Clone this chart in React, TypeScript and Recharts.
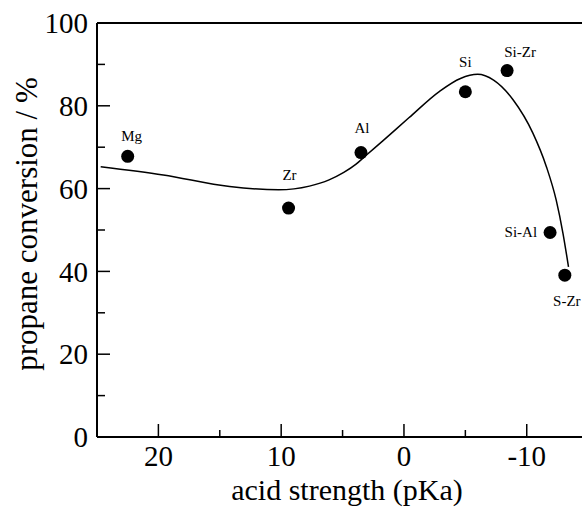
import React from 'react';
import { ComposedChart, Line, Scatter, XAxis, YAxis, ReferenceLine, Label } from 'recharts';

// catalysts, measured points
const catalystNames = ['Mg', 'Zr', 'Al', 'Si', 'Si-Zr', 'Si-Al', 'S-Zr'];
const catalystPka = [22.5, 9.4, 3.5, -5.0, -8.4, -11.9, -13.1];
const catalystConversion = [67.8, 55.3, 68.7, 83.4, 88.5, 49.4, 39.1];

// hand-drawn trend curve
const trendPka = [24.7, 19.6, 14.2, 10.2, 7.7, 6.1, 4.9, 3.9, 3.1, 1.7, -0.4, -2.9, -4.6, -6.0, -7.3, -8.9, -10.5, -11.6, -12.4, -12.95, -13.4];
const trendConversion = [65.3, 63.3, 60.5, 59.7, 60.6, 62.1, 63.9, 65.9, 68.0, 71.6, 77.1, 83.5, 86.6, 87.6, 86.2, 81.4, 73.4, 65.3, 57.2, 49.2, 41.1];

const xMajor = [20, 10, 0, -10];
const xMinor = [15, 5, -5];
const yMajor = [0, 20, 40, 60, 80, 100];
const yMinor = [10, 30, 50, 70, 90];

const serif = { fontFamily: "'Liberation Serif', 'DejaVu Serif', 'Times New Roman', serif" };

// where each catalyst name sits relative to its dot
const labelOffset: Record<string, { dx: number; dy: number; anchor: 'start' | 'middle' | 'end' }> = {
  Mg: { dx: 4, dy: -15, anchor: 'middle' },
  Zr: { dx: 1, dy: -28, anchor: 'middle' },
  Al: { dx: 1, dy: -20, anchor: 'middle' },
  Si: { dx: 0, dy: -25, anchor: 'middle' },
  'Si-Zr': { dx: 13, dy: -14, anchor: 'middle' },
  'Si-Al': { dx: -13, dy: 5, anchor: 'end' },
  'S-Zr': { dx: 2, dy: 31, anchor: 'middle' },
};

const points = catalystNames.map((name, i) => ({ name, x: catalystPka[i], y: catalystConversion[i] }));
const trend = trendPka.map((x, i) => ({ x, y: trendConversion[i] }));

const XTick = (props: any) => {
  const { x, y, payload } = props;
  const major = xMajor.includes(payload.value);
  return (
    <g>
      <line x1={x} x2={x} y1={y} y2={y - (major ? 13 : 7)} stroke="#000" strokeWidth={1.5} />
      {major && (
        <text x={x} y={y + 29} textAnchor="middle" style={serif} fontSize={29} fill="#000">
          {payload.value}
        </text>
      )}
    </g>
  );
};

const YTick = (props: any) => {
  const { x, y, payload } = props;
  const major = yMajor.includes(payload.value);
  return (
    <g>
      <line x1={x} x2={x + (major ? 13 : 8)} y1={y} y2={y} stroke="#000" strokeWidth={1.5} />
      {major && (
        <text x={x - 9} y={y} dy="0.35em" textAnchor="end" style={serif} fontSize={29} fill="#000">
          {payload.value}
        </text>
      )}
    </g>
  );
};

const Dot = (props: any) => {
  const { cx, cy, payload } = props;
  const o = labelOffset[payload.name];
  return (
    <g>
      <circle cx={cx} cy={cy} r={6.5} fill="#000" />
      <text x={cx + o.dx} y={cy + o.dy} textAnchor={o.anchor} style={serif} fontSize={15} fill="#000">
        {payload.name}
      </text>
    </g>
  );
};

export default function App() {
  return (
    <div style={{ position: 'absolute', left: 0, top: 0, background: '#fff' }}>
      <ComposedChart width={582} height={508} margin={{ top: 23, right: 0, bottom: 0, left: 0 }}>
        <XAxis
          type="number"
          dataKey="x"
          domain={[-14.5, 25]}
          reversed
          allowDataOverflow
          ticks={[...xMajor, ...xMinor]}
          tick={<XTick />}
          tickSize={0}
          tickMargin={0}
          tickLine={false}
          axisLine={{ stroke: '#000', strokeWidth: 2 }}
          height={71}
          interval={0}
        >
          <Label
            content={() => (
              <text x={347} y={500} textAnchor="middle" style={serif} fontSize={30} fill="#000">
                acid strength (pKa)
              </text>
            )}
          />
        </XAxis>
        <YAxis
          type="number"
          dataKey="y"
          domain={[0, 100]}
          allowDataOverflow
          ticks={[...yMajor, ...yMinor]}
          tick={<YTick />}
          tickSize={0}
          tickMargin={0}
          tickLine={false}
          axisLine={{ stroke: '#000', strokeWidth: 2 }}
          width={97}
          interval={0}
        >
          <Label
            content={() => (
              <text
                transform="translate(37,224) rotate(-90)"
                textAnchor="middle"
                style={serif}
                fontSize={31}
                fill="#000"
              >
                propane conversion / %
              </text>
            )}
          />
        </YAxis>
        <ReferenceLine y={100} stroke="#000" strokeWidth={2} />
        <Line
          data={trend}
          dataKey="y"
          type="monotone"
          stroke="#000"
          strokeWidth={1.5}
          dot={false}
          activeDot={false}
          isAnimationActive={false}
        />
        <Scatter data={points} dataKey="y" shape={<Dot />} isAnimationActive={false} />
      </ComposedChart>
    </div>
  );
}
